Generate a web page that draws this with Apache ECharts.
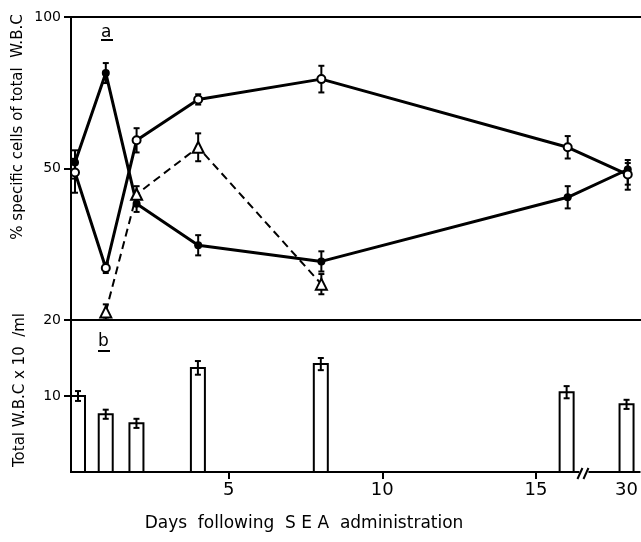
<!DOCTYPE html>
<html>
<head>
<meta charset="utf-8">
<script src="https://cdn.jsdelivr.net/npm/echarts@6/dist/echarts.min.js"></script>
<style>
  html, body { margin: 0; padding: 0; background: #fff; }
  #chart { width: 641px; height: 542px; }
</style>
</head>
<body>
<div id="chart"></div>
<script>
// days after SEA, 30 sits after the axis break
var days = [0, 1, 2, 4, 8, 16, 30];
// panel a: % of total WBC
var filledPct = [52, 81.5, 43, 34.8, 31.6, 44.3, 49.8];
var filledErr = [4, 3.3, 1.6, 2, 2, 2.2, 3];
var openPct = [49.2, 30.3, 59.3, 72.8, 79.5, 57, 48.8];
var openErr = [4, 1, 4, 1.7, 4.4, 3.7, 3];
var triDays = [1, 2, 4, 8];
var triPct = [21.6, 44.9, 57, 27.1];
var triErr = [1.5, 1.6, 4.6, 2];
// panel b: total WBC
var wbc = [10.0, 7.6, 6.4, 13.7, 14.2, 10.5, 8.9];
var wbcErr = [0.65, 0.6, 0.6, 0.9, 0.8, 0.8, 0.6];
var pctTicks = [20, 50, 100];
var dayTicks = [5, 10, 15, 30];

var FONT = 'DejaVu Sans';

// day -> position on the axis (30 is drawn right after the break)
function xPos(d) { return d > 16 ? 17.95 : d; }
// % axis is stretched: 20..50 and 50..100 take the same height
function yPct(v) { return v <= 50 ? (v - 20) / 30 : 1 + (v - 50) / 50; }

function pts(xs, ys) {
  var out = [];
  for (var i = 0; i < xs.length; i++) out.push([xPos(xs[i]), yPct(ys[i])]);
  return out;
}
function errPct(xs, ys, es) {
  var out = [];
  for (var i = 0; i < xs.length; i++) out.push([xPos(xs[i]), yPct(ys[i] - es[i]), yPct(ys[i] + es[i])]);
  return out;
}

function renderErr(params, api) {
  var lo = api.coord([api.value(0), api.value(1)]);
  var hi = api.coord([api.value(0), api.value(2)]);
  var c = 3;
  var st = { stroke: '#000', lineWidth: 2 };
  return {
    type: 'group',
    children: [
      { type: 'line', shape: { x1: lo[0], y1: lo[1], x2: hi[0], y2: hi[1] }, style: st },
      { type: 'line', shape: { x1: lo[0] - c, y1: lo[1], x2: lo[0] + c, y2: lo[1] }, style: st },
      { type: 'line', shape: { x1: hi[0] - c, y1: hi[1], x2: hi[0] + c, y2: hi[1] }, style: st }
    ]
  };
}

function renderBar(params, api) {
  var top = api.coord([api.value(0), api.value(1)]);
  var base = api.coord([api.value(0), 0]);
  var w = 14;
  var x0 = top[0] - w / 2;
  var left = params.coordSys.x;
  var shift = 0;
  if (x0 < left) { shift = left - x0; x0 = left; }
  var e = api.value(2);
  var lo = api.coord([api.value(0), api.value(1) - e]);
  var hi = api.coord([api.value(0), api.value(1) + e]);
  var cx = top[0] + shift;
  var st = { stroke: '#000', lineWidth: 2 };
  return {
    type: 'group',
    children: [
      { type: 'rect', shape: { x: x0, y: top[1], width: w, height: base[1] - top[1] },
        style: { fill: '#fff', stroke: '#000', lineWidth: 2 } },
      { type: 'line', shape: { x1: cx, y1: lo[1], x2: cx, y2: hi[1] }, style: st },
      { type: 'line', shape: { x1: cx - 3, y1: lo[1], x2: cx + 3, y2: lo[1] }, style: st },
      { type: 'line', shape: { x1: cx - 3, y1: hi[1], x2: cx + 3, y2: hi[1] }, style: st }
    ]
  };
}

function renderBreak(params, api) {
  var p = api.coord([api.value(0), 0]);
  var st = { stroke: '#000', lineWidth: 2 };
  return {
    type: 'group',
    children: [
      { type: 'rect', shape: { x: p[0] - 5, y: p[1] - 3, width: 9, height: 6 }, style: { fill: '#fff' } },
      { type: 'line', shape: { x1: p[0] - 7, y1: p[1] + 7, x2: p[0] - 2, y2: p[1] - 4 }, style: st },
      { type: 'line', shape: { x1: p[0] - 1, y1: p[1] + 7, x2: p[0] + 4, y2: p[1] - 4 }, style: st }
    ]
  };
}

var barData = [];
for (var i = 0; i < days.length; i++) barData.push([xPos(days[i]), wbc[i], wbcErr[i]]);

var axLine = { show: true, onZero: false, lineStyle: { color: '#000', width: 2 } };
var xMin = -0.13, xMax = 18.38;

var chart = echarts.init(document.getElementById('chart'));
chart.setOption({
  animation: false,
  backgroundColor: '#fff',
  grid: [
    { left: 71, right: 0, top: 17, height: 303 },
    { left: 71, right: 0, top: 320, height: 152 }
  ],
  xAxis: [
    { gridIndex: 0, type: 'value', min: xMin, max: xMax, position: 'bottom',
      axisLine: axLine, axisTick: { show: false }, axisLabel: { show: false }, splitLine: { show: false } },
    { gridIndex: 0, type: 'value', min: xMin, max: xMax, position: 'top',
      axisLine: axLine, axisTick: { show: false }, axisLabel: { show: false }, splitLine: { show: false } },
    { gridIndex: 1, type: 'value', min: xMin, max: xMax, position: 'bottom',
      axisLine: axLine,
      axisTick: { show: true, customValues: [5, 10, 15], length: 7, lineStyle: { color: '#000', width: 2 } },
      axisLabel: {
        customValues: [5, 10, 15, 17.95], margin: 9,
        color: '#000', fontFamily: FONT, fontSize: 18,
        formatter: function (v) { return v > 16 ? String(dayTicks[3]) : String(Math.round(v)); }
      },
      splitLine: { show: false } }
  ],
  yAxis: [
    { gridIndex: 0, type: 'value', min: 0, max: 2, interval: 1,
      axisLine: axLine,
      axisTick: { show: true, length: 7, lineStyle: { color: '#000', width: 2 } },
      axisLabel: { color: '#000', fontFamily: FONT, fontSize: 14, margin: 10,
        formatter: function (v) { return String(pctTicks[v]); } },
      splitLine: { show: false } },
    { gridIndex: 1, type: 'value', min: 0, max: 20, interval: 10,
      axisLine: axLine,
      axisTick: { show: true, customValues: [10, 20], length: 7, lineStyle: { color: '#000', width: 2 } },
      axisLabel: { color: '#000', fontFamily: FONT, fontSize: 14, margin: 10, customValues: [10],
        formatter: function (v) { return String(v); } },
      splitLine: { show: false } }
  ],
  graphic: [
    { type: 'text', left: 101, top: 24, style: { text: 'a', font: '17px "DejaVu Sans"', fill: '#000' } },
    { type: 'line', shape: { x1: 101, y1: 40, x2: 113, y2: 40 }, style: { stroke: '#000', lineWidth: 2 } },
    { type: 'text', left: 98, top: 333, style: { text: 'b', font: '17px "DejaVu Sans"', fill: '#000' } },
    { type: 'line', shape: { x1: 98, y1: 351, x2: 110, y2: 351 }, style: { stroke: '#000', lineWidth: 2 } },
    { type: 'text', x: 18, y: 127, rotation: Math.PI / 2,
      style: { text: '% specific cells of total  W.B.C', font: '15px "DejaVu Sans"', fill: '#000',
        textAlign: 'center', textVerticalAlign: 'middle' } },
    { type: 'text', x: 20, y: 390, rotation: Math.PI / 2,
      style: { text: 'Total W.B.C x 10  /ml', font: '15px "DejaVu Sans"', fill: '#000',
        textAlign: 'center', textVerticalAlign: 'middle' } },
    { type: 'text', x: 304, y: 524,
      style: { text: 'Days  following  S E A  administration', font: '17px "DejaVu Sans"', fill: '#000',
        textAlign: 'center', textVerticalAlign: 'middle' } }
  ],
  series: [
    { type: 'custom', xAxisIndex: 0, yAxisIndex: 0, renderItem: renderErr, clip: false, z: 3,
      data: errPct(days, filledPct, filledErr) },
    { type: 'custom', xAxisIndex: 0, yAxisIndex: 0, renderItem: renderErr, clip: false, z: 3,
      data: errPct(days, openPct, openErr) },
    { type: 'custom', xAxisIndex: 0, yAxisIndex: 0, renderItem: renderErr, clip: false, z: 3,
      data: errPct(triDays, triPct, triErr) },
    { type: 'line', xAxisIndex: 0, yAxisIndex: 0, z: 4, data: pts(days, filledPct),
      symbol: 'circle', symbolSize: 8,
      lineStyle: { color: '#000', width: 3 }, itemStyle: { color: '#000' } },
    { type: 'line', xAxisIndex: 0, yAxisIndex: 0, z: 4, data: pts(days, openPct),
      symbol: 'circle', symbolSize: 8,
      lineStyle: { color: '#000', width: 3 }, itemStyle: { color: '#fff', borderColor: '#000', borderWidth: 2 } },
    { type: 'line', xAxisIndex: 0, yAxisIndex: 0, z: 4, data: pts(triDays, triPct),
      symbol: 'triangle', symbolSize: 11,
      lineStyle: { color: '#000', width: 2, type: [8, 5] }, itemStyle: { color: '#fff', borderColor: '#000', borderWidth: 2 } },
    { type: 'custom', xAxisIndex: 2, yAxisIndex: 1, renderItem: renderBar, clip: false, z: 3,
      data: barData },
    { type: 'custom', xAxisIndex: 2, yAxisIndex: 1, renderItem: renderBreak, clip: false, z: 5,
      data: [[16.58, 0]] }
  ]
});
</script>
</body>
</html>
